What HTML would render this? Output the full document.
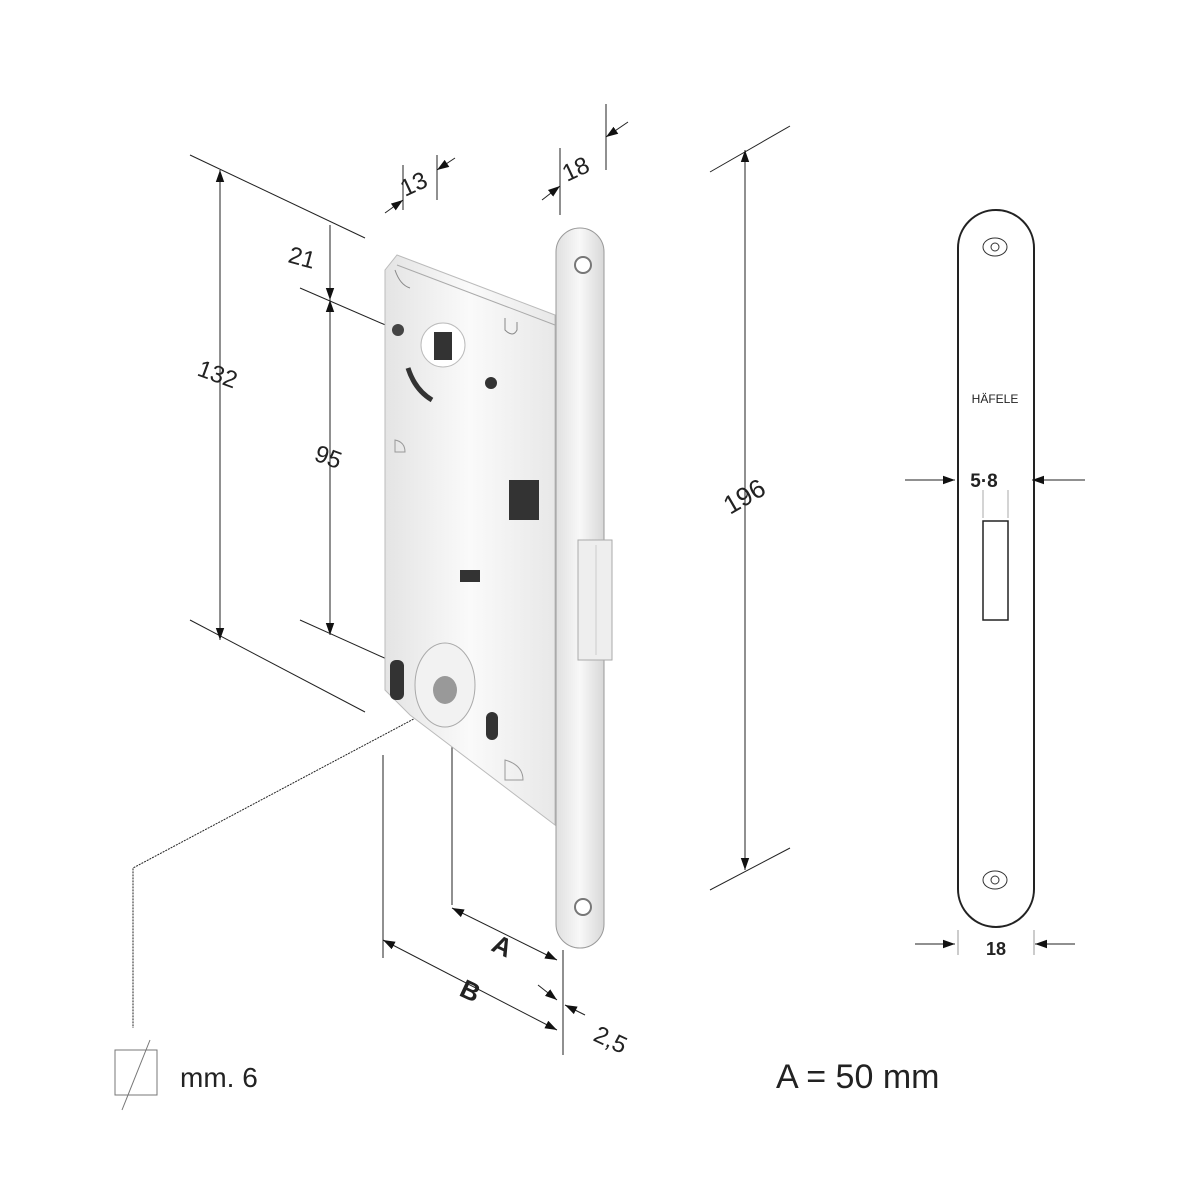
<!DOCTYPE html>
<html><head><meta charset="utf-8"><style>
html,body{margin:0;padding:0;background:#fff;}
svg{display:block}
text{font-family:"Liberation Sans",sans-serif;fill:#222}
</style></head><body>
<svg width="1200" height="1200" viewBox="0 0 1200 1200" xmlns="http://www.w3.org/2000/svg">
<defs>
<marker id="ar" viewBox="0 0 10 10" refX="10" refY="5" markerWidth="12" markerHeight="12" markerUnits="userSpaceOnUse" orient="auto-start-reverse"><path d="M0,1.5 L10,5 L0,8.5 z" fill="#111"/></marker>
<linearGradient id="bg" x1="0" x2="1"><stop offset="0" stop-color="#e4e4e4"/><stop offset="0.5" stop-color="#fafafa"/><stop offset="1" stop-color="#e8e8e8"/></linearGradient>
<linearGradient id="fp" x1="0" x2="1"><stop offset="0" stop-color="#e0e0e0"/><stop offset="0.5" stop-color="#f8f8f8"/><stop offset="1" stop-color="#d8d8d8"/></linearGradient>
</defs>
<g stroke="#222" stroke-width="1" fill="none">
<line x1="190" y1="155" x2="365" y2="238"/>
<line x1="190" y1="620" x2="365" y2="712"/>
<line x1="220" y1="170" x2="220" y2="640" marker-start="url(#ar)" marker-end="url(#ar)"/>
<line x1="300" y1="288" x2="420" y2="340"/>
<line x1="300" y1="620" x2="440" y2="683"/>
<line x1="330" y1="225" x2="330" y2="300" marker-end="url(#ar)"/>
<line x1="330" y1="300" x2="330" y2="635" marker-start="url(#ar)" marker-end="url(#ar)"/>
<line x1="403" y1="165" x2="403" y2="210"/>
<line x1="437" y1="155" x2="437" y2="200"/>
<line x1="385" y1="213" x2="403" y2="200" marker-end="url(#ar)"/>
<line x1="455" y1="158" x2="437" y2="170" marker-end="url(#ar)"/>
<line x1="560" y1="148" x2="560" y2="215"/>
<line x1="606" y1="104" x2="606" y2="170"/>
<line x1="542" y1="200" x2="560" y2="186" marker-end="url(#ar)"/>
<line x1="628" y1="122" x2="606" y2="137" marker-end="url(#ar)"/>
<line x1="710" y1="172" x2="790" y2="126"/>
<line x1="710" y1="890" x2="790" y2="848"/>
<line x1="745" y1="150" x2="745" y2="870" marker-start="url(#ar)" marker-end="url(#ar)"/>
<line x1="383" y1="755" x2="383" y2="958"/>
<line x1="452" y1="690" x2="452" y2="905"/>
<line x1="563" y1="950" x2="563" y2="1055"/>
<line x1="452" y1="908" x2="557" y2="960" marker-start="url(#ar)" marker-end="url(#ar)"/>
<line x1="383" y1="940" x2="557" y2="1030" marker-start="url(#ar)" marker-end="url(#ar)"/>
<line x1="538" y1="985" x2="557" y2="1000" marker-end="url(#ar)"/>
<line x1="585" y1="1015" x2="565" y2="1005" marker-end="url(#ar)"/>
<polyline points="440,705 133,868 133,1028" stroke-dasharray="2,1"/>
<rect x="115" y="1050" width="42" height="45" stroke="#777"/>
<line x1="122" y1="1110" x2="150" y2="1040" stroke="#777"/>
</g>
<polygon points="397,255 555,315 555,825 410,715 385,690 385,270" fill="url(#bg)" stroke="#bbb"/>
<polyline points="397,265 555,325" fill="none" stroke="#aaa"/>
<path d="M395,270 q5,15 15,18" fill="none" stroke="#888"/>
<path d="M505,318 l0,12 q8,8 12,0 l0,-8" fill="none" stroke="#888"/>
<circle cx="398" cy="330" r="6" fill="#444"/>
<circle cx="443" cy="345" r="22" fill="#fff" stroke="#bbb"/>
<rect x="434" y="332" width="18" height="28" fill="#333"/>
<path d="M408,368 Q415,390 432,400" fill="none" stroke="#333" stroke-width="5"/>
<circle cx="491" cy="383" r="6" fill="#333"/>
<path d="M395,440 l0,12 l10,0 q0,-10 -10,-12z" fill="none" stroke="#999"/>
<rect x="509" y="480" width="30" height="40" fill="#333"/>
<rect x="460" y="570" width="20" height="12" fill="#333"/>
<ellipse cx="445" cy="685" rx="30" ry="42" fill="#f2f2f2" stroke="#aaa"/>
<ellipse cx="445" cy="690" rx="12" ry="14" fill="#999"/>
<rect x="390" y="660" width="14" height="40" rx="6" fill="#333"/>
<rect x="486" y="712" width="12" height="28" rx="6" fill="#333"/>
<path d="M505,760 l0,20 l18,0 q0,-15 -18,-20z" fill="none" stroke="#999"/>
<rect x="556" y="228" width="48" height="720" rx="24" fill="url(#fp)" stroke="#999"/>
<circle cx="583" cy="265" r="8" fill="#fff" stroke="#777" stroke-width="2"/>
<circle cx="583" cy="907" r="8" fill="#fff" stroke="#777" stroke-width="2"/>
<rect x="578" y="540" width="34" height="120" fill="#eee" stroke="#aaa"/>
<line x1="596" y1="545" x2="596" y2="655" stroke="#ccc"/>
<rect x="958" y="210" width="76" height="717" rx="38" fill="#fff" stroke="#222" stroke-width="2"/>
<g fill="none" stroke="#333"><ellipse cx="995" cy="247" rx="12" ry="9"/><circle cx="995" cy="247" r="4"/><ellipse cx="995" cy="880" rx="12" ry="9"/><circle cx="995" cy="880" r="4"/></g>
<text x="995" y="403" font-size="12" text-anchor="middle" fill="#555">HÄFELE</text>
<rect x="983" y="521" width="25" height="99" fill="#fff" stroke="#222" stroke-width="1.5"/>
<line x1="983" y1="490" x2="983" y2="518" stroke="#aaa"/><line x1="1008" y1="490" x2="1008" y2="518" stroke="#aaa"/>
<g stroke="#222"><line x1="905" y1="480" x2="955" y2="480" marker-end="url(#ar)"/><line x1="1085" y1="480" x2="1032" y2="480" marker-end="url(#ar)"/>
<line x1="915" y1="944" x2="955" y2="944" marker-end="url(#ar)"/><line x1="1075" y1="944" x2="1035" y2="944" marker-end="url(#ar)"/>
<line x1="958" y1="930" x2="958" y2="955" stroke="#999"/><line x1="1034" y1="930" x2="1034" y2="955" stroke="#999"/></g>
<text x="984" y="487" font-size="19" font-weight="bold" text-anchor="middle">5·8</text>
<text x="996" y="955" font-size="18" font-weight="bold" text-anchor="middle">18</text>
<text x="0" y="0" font-size="24" transform="translate(196,375) rotate(20)">132</text>
<text x="0" y="0" font-size="24" transform="translate(287,262) rotate(15)">21</text>
<text x="0" y="0" font-size="24" transform="translate(313,460) rotate(20)">95</text>
<text x="0" y="0" font-size="24" transform="translate(405,197) rotate(-25)">13</text>
<text x="0" y="0" font-size="24" transform="translate(567,182) rotate(-25)">18</text>
<text x="0" y="0" font-size="26" transform="translate(730,515) rotate(-30)">196</text>
<text x="0" y="0" font-size="26" font-weight="bold" transform="translate(490,950) rotate(25)">A</text>
<text x="0" y="0" font-size="26" font-weight="bold" transform="translate(458,995) rotate(25)">B</text>
<text x="0" y="0" font-size="24" transform="translate(592,1040) rotate(25)">2,5</text>
<text x="180" y="1087" font-size="28">mm. 6</text>
<text x="776" y="1088" font-size="34">A = 50 mm</text>
</svg>
</body></html>
